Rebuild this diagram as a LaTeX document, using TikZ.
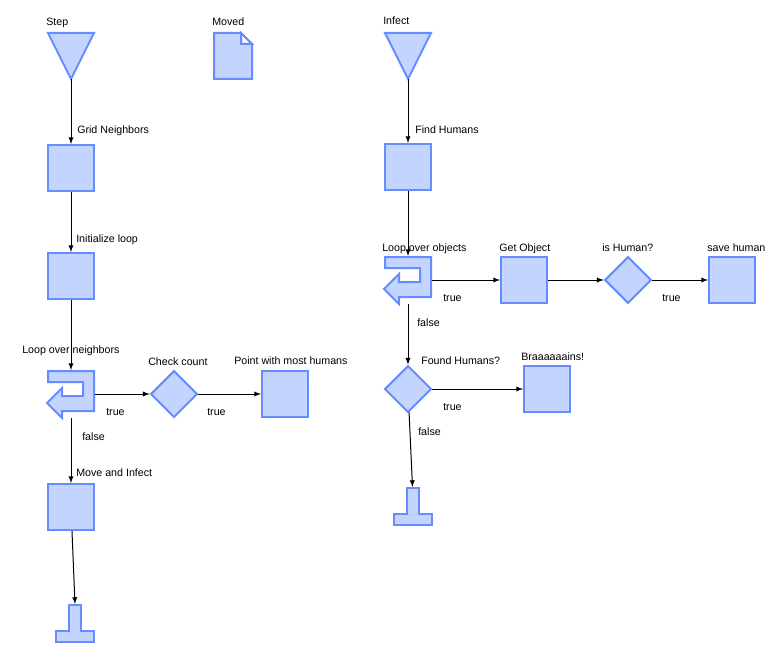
\documentclass[tikz,border=0pt]{standalone}
\usepackage{fontspec}
\setmainfont{Liberation Sans}
\usetikzlibrary{arrows}
\usetikzlibrary{shapes.geometric}
\definecolor{figfill}{RGB}{195,213,255}
\definecolor{figline}{RGB}{102,140,255}
\tikzset{
  fig/.style={draw=figline, fill=figfill, line width=1.5pt, line join=miter},
  box/.style={fig, rectangle, inner sep=0pt, minimum size=34.5pt},
  test/.style={fig, diamond, inner sep=0pt, minimum size=35pt},
  flow/.style={->, >=latex, line width=0.75pt},
  lbl/.style={anchor=base west, inner sep=0pt, font=\fontsize{8}{9}\selectfont},
  starttri/.pic={
    \draw[fig] (-23,-23) -- (23,-23) -- (0,23) -- cycle;
    \coordinate (-out) at (0,23);
  },
  docsym/.pic={
    \draw[fig] (-19,-23) -- (8,-23) -- (19,-12) -- (19,23) -- (-19,23) -- cycle;
    \draw[fig, fill=white] (8,-23) -- (8,-12) -- (19,-12) -- cycle;
  },
  loopsym/.pic={
    \draw[fig] (-23,-23) -- (23,-23) -- (23,17) -- (-9,17) -- (-9,24) -- (-24,9)
      -- (-9,-6) -- (-9,2) -- (12,2) -- (12,-12) -- (-23,-12) -- cycle;
    \coordinate (-n) at (0,-24);
    \coordinate (-e) at (24,0);
    \coordinate (-s) at (0,24);
  },
  endsym/.pic={
    \draw[fig] (-6,1) -- (6,1) -- (6,27) -- (19,27) -- (19,38) -- (-19,38)
      -- (-19,27) -- (-6,27) -- cycle;
    \coordinate (-n) at (0,0);
  },
}
\begin{document}
\begin{tikzpicture}[x=0.75pt, y=-0.75pt]
    \useasboundingbox (0,0) rectangle (770,649);
    % Step
    \pic (step) at (71,56) {starttri};
    \pic (moved) at (233,56) {docsym};
    \node[box] (grid) at (71,168) {};
    \node[box] (init) at (71,276) {};
    \pic (lp1) at (71,394) {loopsym};
    \node[test] (check) at (174,394) {};
    \node[box] (point) at (285,394) {};
    \node[box] (move) at (71,507) {};
    \pic (end1) at (75,604) {endsym};
    % Infect
    \pic (infect) at (408,56) {starttri};
    \node[box] (find) at (408,167) {};
    \pic (lp2) at (408,280) {loopsym};
    \node[box] (getobj) at (524,280) {};
    \node[test] (ishuman) at (628,280) {};
    \node[box] (save) at (732,280) {};
    \node[test] (found) at (408,389) {};
    \node[box] (brains) at (547,389) {};
    \pic (end2) at (412.5,487) {endsym};
    % Liens
    \draw[flow] (step-out) -- (grid);
    \draw[flow] (grid) -- (init);
    \draw[flow] (init) -- (lp1-n);
    \draw[flow] (lp1-e) -- (check);
    \draw[flow] (check) -- (point);
    \draw[flow] (lp1-s) -- (move);
    \draw[flow] (move) -- (end1-n);
    \draw[flow] (infect-out) -- (find);
    \draw[flow] (find) -- (lp2-n);
    \draw[flow] (lp2-e) -- (getobj);
    \draw[flow] (getobj) -- (ishuman);
    \draw[flow] (ishuman) -- (save);
    \draw[flow] (lp2-s) -- (found);
    \draw[flow] (found) -- (brains);
    \draw[flow] (found) -- (end2-n);
    % Textes
    \node[lbl] (stepL) at (46,26) {Step};
    \node[lbl] (movedL) at (212,26) {Moved};
    \node[lbl] (gridL) at (77,133) {Grid Neighbors};
    \node[lbl] (initL) at (76,242) {Initialize loop};
    \node[lbl] (lp1L) at (22,353) {Loop over neighbors};
    \node[lbl] (checkL) at (148,365) {Check count};
    \node[lbl] (pointL) at (234,364) {Point with most humans};
    \node[lbl] (moveL) at (76,476) {Move and Infect};
    \node[lbl] (t1) at (106,415) {true};
    \node[lbl] (t2) at (207,415) {true};
    \node[lbl] (f1) at (82,440) {false};
    \node[lbl] (infectL) at (383,25) {Infect};
    \node[lbl] (findL) at (415,134) {Find Humans};
    \node[lbl] (lp2L) at (382,251) {Loop over objects};
    \node[lbl] (getobjL) at (499,251) {Get Object};
    \node[lbl] (ishumanL) at (602,251) {is Human?};
    \node[lbl] (saveL) at (707,251) {save human};
    \node[lbl] (foundL) at (421,364) {Found Humans?};
    \node[lbl] (brainsL) at (521,360) {Braaaaaains!};
    \node[lbl] (t3) at (443,301) {true};
    \node[lbl] (t4) at (662,301) {true};
    \node[lbl] (t5) at (443,410) {true};
    \node[lbl] (f2) at (417,326) {false};
    \node[lbl] (f3) at (418,435) {false};
\end{tikzpicture}
\end{document}
